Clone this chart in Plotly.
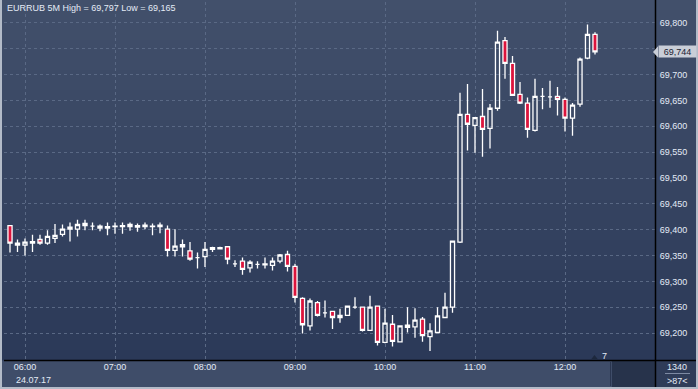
import plotly.graph_objects as go

# ---- data (EURRUB 5M, 24.07.17) ----
times = ["05:50", "05:55", "06:00", "06:05", "06:10", "06:15", "06:20", "06:25", "06:30", "06:35",
         "06:40", "06:45", "06:50", "06:55", "07:00", "07:05", "07:10", "07:15", "07:20", "07:25",
         "07:30", "07:35", "07:40", "07:45", "07:50", "07:55", "08:00", "08:05", "08:10", "08:15",
         "08:20", "08:25", "08:30", "08:35", "08:40", "08:45", "08:50", "08:55", "09:00", "09:05",
         "09:10", "09:15", "09:20", "09:25", "09:30", "09:35", "09:40", "09:45", "09:50", "09:55",
         "10:00", "10:05", "10:10", "10:15", "10:20", "10:25", "10:30", "10:35", "10:40", "10:45",
         "10:50", "10:55", "11:00", "11:05", "11:10", "11:15", "11:20", "11:25", "11:30", "11:35",
         "11:40", "11:45", "11:50", "11:55", "12:00", "12:05", "12:10", "12:15", "12:20"]

opens = [69.408, 69.370, 69.370, 69.374, 69.381, 69.374, 69.383, 69.391, 69.401, 69.401,
         69.412, 69.407, 69.403, 69.403, 69.406, 69.406, 69.410, 69.405, 69.406, 69.406,
         69.406, 69.401, 69.360, 69.367, 69.359, 69.346, 69.348, 69.362, 69.363, 69.367,
         69.334, 69.339, 69.326, 69.333, 69.332, 69.331, 69.339, 69.352, 69.329, 69.267,
         69.214, 69.259, 69.239, 69.242, 69.230, 69.234, 69.250, 69.250, 69.205, 69.252,
         69.182, 69.217, 69.183, 69.215, 69.212, 69.227, 69.193, 69.201, 69.230, 69.250,
         69.376, 69.623, 69.602, 69.619, 69.596, 69.635, 69.766, 69.722, 69.662, 69.645,
         69.592, 69.658, 69.657, 69.658, 69.652, 69.616, 69.643, 69.732, 69.778]
highs = [69.409, 69.381, 69.383, 69.390, 69.390, 69.399, 69.411, 69.410, 69.414, 69.419,
         69.419, 69.414, 69.410, 69.414, 69.414, 69.414, 69.414, 69.412, 69.414, 69.412,
         69.414, 69.408, 69.401, 69.381, 69.376, 69.356, 69.376, 69.367, 69.367, 69.368,
         69.341, 69.346, 69.341, 69.339, 69.346, 69.346, 69.353, 69.359, 69.334, 69.269,
         69.267, 69.262, 69.263, 69.242, 69.247, 69.252, 69.269, 69.250, 69.272, 69.252,
         69.247, 69.235, 69.214, 69.250, 69.248, 69.231, 69.219, 69.250, 69.278, 69.378,
         69.665, 69.682, 69.618, 69.672, 69.643, 69.785, 69.773, 69.736, 69.686, 69.656,
         69.692, 69.674, 69.688, 69.676, 69.656, 69.645, 69.733, 69.797, 69.782]
lows = [69.356, 69.357, 69.350, 69.357, 69.371, 69.371, 69.374, 69.387, 69.377, 69.387,
        69.399, 69.399, 69.397, 69.389, 69.392, 69.392, 69.398, 69.396, 69.401, 69.389,
        69.393, 69.348, 69.348, 69.348, 69.340, 69.325, 69.328, 69.357, 69.362, 69.333,
        69.328, 69.313, 69.317, 69.325, 69.325, 69.321, 69.335, 69.319, 69.259, 69.199,
        69.205, 69.232, 69.230, 69.208, 69.220, 69.234, 69.247, 69.203, 69.205, 69.176,
        69.180, 69.174, 69.183, 69.201, 69.191, 69.183, 69.165, 69.201, 69.230, 69.239,
        69.374, 69.553, 69.549, 69.541, 69.557, 69.630, 69.692, 69.660, 69.643, 69.578,
        69.590, 69.633, 69.636, 69.621, 69.590, 69.582, 69.638, 69.730, 69.739]
closes = [69.374, 69.374, 69.376, 69.377, 69.374, 69.387, 69.389, 69.401, 69.405, 69.410,
          69.408, 69.407, 69.407, 69.406, 69.407, 69.408, 69.406, 69.408, 69.409, 69.407,
          69.409, 69.360, 69.368, 69.371, 69.343, 69.346, 69.362, 69.365, 69.365, 69.343,
          69.334, 69.323, 69.337, 69.333, 69.334, 69.339, 69.351, 69.329, 69.269, 69.216,
          69.262, 69.234, 69.239, 69.230, 69.234, 69.252, 69.250, 69.205, 69.250, 69.182,
          69.219, 69.184, 69.214, 69.211, 69.225, 69.195, 69.204, 69.233, 69.250, 69.378,
          69.623, 69.604, 69.617, 69.594, 69.635, 69.763, 69.722, 69.660, 69.645, 69.594,
          69.658, 69.658, 69.657, 69.652, 69.616, 69.641, 69.730, 69.778, 69.744]

y_ticks = [69.20, 69.25, 69.30, 69.35, 69.40, 69.45, 69.50, 69.55, 69.60, 69.65, 69.70, 69.75, 69.80]
y_tick_labels = ["69,200", "69,250", "69,300", "69,350", "69,400", "69,450", "69,500",
                 "69,550", "69,600", "69,650", "69,700", "", "69,800"]
x_ticks = ["06:00", "07:00", "08:00", "09:00", "10:00", "11:00", "12:00"]
date_str = "2017-07-24"
title_text = "EURRUB 5M High = 69,797 Low = 69,165"
last_price_label = "69,744"

# ---- geometry helpers (pixel -> paper) ----
W, H = 698, 389
L_PX, R_PX, T_PX, B_PX = 4, 655, 2, 360


def pxx(p):
    return (p - L_PX) / (R_PX - L_PX)


def pxy(p):
    return (B_PX - p) / (B_PX - T_PX)


FONT = "Liberation Sans, Arial, sans-serif"
TXT = "#e4ebf6"

x_dates = [f"{date_str} {t}" for t in times]

fig = go.Figure()
fig.add_trace(go.Candlestick(
    x=x_dates, open=opens, high=highs, low=lows, close=closes,
    increasing=dict(line=dict(color="#ffffff", width=1.3), fillcolor="rgba(0,0,0,0)"),
    decreasing=dict(line=dict(color="#ffffff", width=1.3), fillcolor="#dc143c"),
    whiskerwidth=0, showlegend=False, hoverinfo="skip",
))

shapes = []
# vertical gradient background for plot + right axis area
top_c = (66, 80, 107)
bot_c = (43, 57, 88)
n = 36
for i in range(n):
    f = (i + 0.5) / n
    c = tuple(int(round(top_c[k] + (bot_c[k] - top_c[k]) * f)) for k in range(3))
    y0p = i * 360 / n
    y1p = (i + 1) * 360 / n + 0.6
    shapes.append(dict(type="rect", xref="paper", yref="paper", layer="below",
                       x0=pxx(2), x1=pxx(696), y0=pxy(y1p), y1=pxy(y0p),
                       line=dict(width=0), fillcolor="rgb(%d,%d,%d)" % c))
# dark box at right end of the time strip
shapes.append(dict(type="rect", xref="paper", yref="paper", layer="below",
                   x0=pxx(612), x1=pxx(655), y0=pxy(387), y1=pxy(361),
                   line=dict(width=0), fillcolor="#27334b"))
shapes.append(dict(type="line", xref="paper", yref="paper", layer="below",
                   x0=pxx(610.5), x1=pxx(610.5), y0=pxy(386), y1=pxy(362),
                   line=dict(width=1, color="#2a3650")))
# corner box
shapes.append(dict(type="rect", xref="paper", yref="paper", layer="below",
                   x0=pxx(656), x1=pxx(696), y0=pxy(387), y1=pxy(361),
                   line=dict(width=0), fillcolor="#2f3c58"))
shapes.append(dict(type="line", xref="paper", yref="paper",
                   x0=pxx(665), x1=pxx(690), y0=pxy(373.5), y1=pxy(373.5),
                   line=dict(width=1, color="#7d8aa3")))
# black separator lines
shapes.append(dict(type="line", xref="paper", yref="paper",
                   x0=pxx(4), x1=pxx(698), y0=pxy(360.5), y1=pxy(360.5),
                   line=dict(width=1.5, color="#000000")))
shapes.append(dict(type="line", xref="paper", yref="paper",
                   x0=pxx(655.5), x1=pxx(655.5), y0=pxy(387), y1=pxy(0),
                   line=dict(width=1.5, color="#000000")))
# outer light border
for (x0, x1, y0, y1) in [(0, 2, 0, 389), (696, 698, 0, 389), (0, 698, 387, 389)]:
    shapes.append(dict(type="rect", xref="paper", yref="paper",
                       x0=pxx(x0), x1=pxx(x1), y0=pxy(y1), y1=pxy(y0),
                       line=dict(width=0), fillcolor="#b3bbc8"))
# small marker triangle near the "7"
shapes.append(dict(type="path", xref="paper", yref="paper",
                   path="M %f %f L %f %f L %f %f Z" % (pxx(591), pxy(359.5), pxx(598), pxy(359.5),
                                                      pxx(594.5), pxy(355)),
                   line=dict(width=0), fillcolor="#1d283d"))
# arrow tip of the last price label
shapes.append(dict(type="path", xref="paper", yref="y",
                   path="M %f %f L %f %f L %f %f Z" % (pxx(653), 69.744, pxx(658), 69.744 + 0.011,
                                                      pxx(658), 69.744 - 0.011),
                   line=dict(width=0), fillcolor="#c9ced8"))

annotations = [
    dict(text=title_text, xref="paper", yref="paper", x=pxx(5), y=pxy(7.5),
         xanchor="left", yanchor="middle", showarrow=False,
         font=dict(family=FONT, size=9, color=TXT)),
    dict(text="24.07.17", xref="paper", yref="paper", x=pxx(13.5), y=pxy(380),
         xanchor="left", yanchor="middle", showarrow=False,
         font=dict(family=FONT, size=9, color=TXT)),
    dict(text="7", xref="paper", yref="paper", x=pxx(600), y=pxy(355.5),
         xanchor="left", yanchor="middle", showarrow=False,
         font=dict(family=FONT, size=9, color=TXT)),
    dict(text="1340", xref="paper", yref="paper", x=pxx(677.5), y=pxy(367),
         xanchor="center", yanchor="middle", showarrow=False,
         font=dict(family=FONT, size=9, color=TXT)),
    dict(text="&gt;87&lt;", xref="paper", yref="paper", x=pxx(677.5), y=pxy(380.5),
         xanchor="center", yanchor="middle", showarrow=False,
         font=dict(family=FONT, size=9, color=TXT)),
    dict(text=last_price_label, xref="paper", yref="y", x=pxx(657.5), y=closes[-1],
         xanchor="left", yanchor="middle", showarrow=False, bgcolor="#c9ced8",
         width=37, height=11, borderpad=0,
         font=dict(family=FONT, size=9, color="#1a2233")),
]

fig.update_layout(
    width=W, height=H,
    margin=dict(l=L_PX, r=W - R_PX, t=T_PX, b=H - B_PX, autoexpand=False),
    paper_bgcolor="#3f4d69", plot_bgcolor="rgba(0,0,0,0)",
    shapes=shapes, annotations=annotations,
    boxgap=0.22,
    xaxis=dict(
        type="date",
        range=[f"{date_str} 05:46", f"{date_str} 13:00"],
        tickvals=[f"{date_str} {t}" for t in x_ticks], ticktext=x_ticks,
        showgrid=True, gridcolor="#5a6985", griddash="3px,3px", gridwidth=1,
        ticks="", showline=False, zeroline=False,
        rangeslider=dict(visible=False),
        tickfont=dict(family=FONT, size=9, color=TXT),
        fixedrange=True, automargin=False,
    ),
    yaxis=dict(
        side="right",
        range=[69.1478, 69.8406],
        tickvals=y_ticks, ticktext=y_tick_labels,
        showgrid=True, gridcolor="#5a6985", griddash="3px,3px", gridwidth=1,
        ticks="outside", ticklen=2, tickcolor="rgba(0,0,0,0)",
        showline=False, zeroline=False,
        tickfont=dict(family=FONT, size=9, color=TXT),
        fixedrange=True, automargin=False,
    ),
    hovermode=False,
)

fig.write_html("out.html", config={"displayModeBar": False},
               post_script="document.body.style.margin='0';document.body.style.overflow='hidden';")
